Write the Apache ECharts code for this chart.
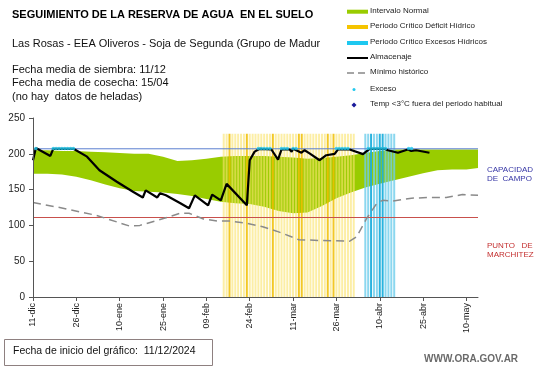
<!DOCTYPE html>
<html><head><meta charset="utf-8">
<script src="https://cdn.jsdelivr.net/npm/echarts@6/dist/echarts.min.js"></script>
<style>html,body{margin:0;padding:0;background:#fff}#c{width:541px;height:368px}</style>
</head><body><div id="c"></div>
<script>
// ---- data (x = days since 11-dic-2024) ----
const tickDays = [0,15,30,45,60,75,90,105,120,135,150];
const tickLabels = ['11-dic','26-dic','10-ene','25-ene','09-feb','24-feb','11-mar','26-mar','10-abr','25-abr','10-may'];
const lastDay = 154;

const bandDays = [0,5,10,15,20,25,30,35,40,45,50,55,60,65,70,75,80,85,90,95,100,105,110,115,120,125,130,135,140,145,150,154];
const bandLow  = [172,172,171,168,163,157,152,148,147,146,144,141,137,133,131,130,126,120,117,118,127,138,146,153,158,163,168,173,177,178,178,180];
const bandHigh = [205,205,204,204,203,202,201,200,200,196,190,191,193,196,197,197,197,196,195,193,194,196,198,201,204,206,206,206,206,206,206,206];

const almDays   = [0,1,6,7,14,18.7,23,29,34.6,38,39,43,44,46,51,54,56,60.6,62,65,67,74,75,76.7,78.5,82.5,84.8,86,88.8,89.5,90,92.9,94,95.7,99.2,101.5,104.4,105.5,109.6,114.2,114.8,116.5,121.7,122.8,126.3,129.7,130.9,132.6,137.2];
const almValues = [191,208,197,207,207,196,177,161,147,139,149,139,145,142,131,124,142,128,143,135,158,128,191,203,207,206,192,206,206,203,207,201.5,205,200.6,191,198,200,206,206,199.6,198,207,207,205,201.5,206,204,205,201.5];

const minDays   = [0,10.4,22,33.5,37,43,51,54,59,64,68,74,79.5,85,92,99,109.6,112,115.5,119,121,124.5,131,137,143,148.6,154];
const minValues = [132,124,114,99,100,107,117,117,109,106,106,103,98,91,80,79,78,84,110,131,135,134,138,139,139,143,142];

const excesoDays = [1,7,8,9,10,11,12,13,14,78,79,80,81,82,86,87,88,90,91,105,106,107,108,109,116,117,118,119,120,121,122,130,131];
const excesoValue = 207.5;

const deficitDays = [66,67,68,69,70,71,72,73,74,75,76,77,78,79,80,81,82,83,84,85,86,87,88,89,90,91,92,93,94,95,96,97,98,99,100,101,102,103,104,105,106,107,108,109,110,111];
const deficitStrongDays = [68,74,83,92,93,102,104];
const excesoPeriodDays = [115,116,117,118,119,120,121,122,123,124,125];
const excesoStrongDays = [117,120,121];
const periodHeight = 228;

const capacidadCampo = 207;
const puntoMarchitez = 111;

// ---- build ----
const FONT = '"Liberation Sans", Arial, sans-serif';
const pair = (xs, ys) => xs.map((x, i) => [x, ys[i]]);
const flat = v => [[0, v], [lastDay, v]];
const barItems = (days, strong, cLight, cStrong) => days.map(d => ({
  value: [d, periodHeight],
  itemStyle: { color: strong.includes(d) ? cStrong : cLight }
}));

const chart = echarts.init(document.getElementById('c'), null, { renderer: 'canvas' });

const legendY = [11.7, 27, 43, 58, 73, 89.5, 105];
const legendTexts = ['Intervalo Normal','Periodo Crítico Déficit Hídrico','Periodo Crítico Excesos Hídricos','Almacenaje','Mínimo histórico','Exceso','Temp <3°C fuera del periodo habitual'];
const lg = [];
legendTexts.forEach((t, i) => {
  lg.push({ type: 'text', left: 370, top: legendY[i] - 5, style: { text: t, font: '8px ' + FONT, fill: '#222' } });
});
lg.push({ type: 'rect', shape: { x: 347, y: legendY[0] - 2, width: 21, height: 4 }, style: { fill: '#99cc00' } });
lg.push({ type: 'rect', shape: { x: 347, y: legendY[1] - 2, width: 21, height: 4 }, style: { fill: '#f5c400' } });
lg.push({ type: 'rect', shape: { x: 347, y: legendY[2] - 2, width: 21, height: 4 }, style: { fill: '#1ec8f0' } });
lg.push({ type: 'line', shape: { x1: 347, y1: legendY[3], x2: 368, y2: legendY[3] }, style: { stroke: '#000', lineWidth: 2 } });
lg.push({ type: 'line', shape: { x1: 347, y1: legendY[4], x2: 368, y2: legendY[4] }, style: { stroke: '#888', lineWidth: 1.5, lineDash: [7, 4] } });
lg.push({ type: 'circle', shape: { cx: 354, cy: legendY[5], r: 1.5 }, style: { fill: '#22c8ee' } });
lg.push({ type: 'polygon', shape: { points: [[354, legendY[6] - 2.5], [356.5, legendY[6]], [354, legendY[6] + 2.5], [351.5, legendY[6]]] }, style: { fill: '#1a1a9a' } });

const option = {
  animation: false,
  backgroundColor: '#fff',
  textStyle: { fontFamily: FONT },
  grid: { left: 33, top: 118, right: 63, bottom: 71, containLabel: false, outerBoundsMode: 'none' },
  xAxis: {
    type: 'value', min: 0, max: lastDay, interval: 15, z: 10,
    axisLine: { show: true, lineStyle: { color: '#555', width: 1 } },
    axisTick: { show: true, length: 4, lineStyle: { color: '#555' }, customValues: tickDays },
    axisLabel: {
      rotate: 90, fontSize: 9, color: '#222', margin: 6, customValues: tickDays,
      formatter: v => { const i = tickDays.indexOf(v); return i >= 0 ? tickLabels[i] : ''; }
    },
    splitLine: { show: false }
  },
  yAxis: {
    type: 'value', min: 0, max: 250, interval: 50, z: 10,
    name: 'Milímetros', nameLocation: 'middle', nameGap: 27,
    nameTextStyle: { fontSize: 8, color: '#222' },
    axisLine: { show: true, lineStyle: { color: '#555', width: 1 } },
    axisTick: { show: true, length: 4, lineStyle: { color: '#555' } },
    axisLabel: { fontSize: 10, color: '#222', margin: 8 },
    splitLine: { show: false }
  },
  series: [
    { name: 'Intervalo Normal', type: 'line', data: pair(bandDays, bandHigh), symbol: 'none',
      lineStyle: { width: 0, opacity: 0 }, areaStyle: { color: '#99cc00', opacity: 1, origin: 'start' }, z: 1 },
    { name: 'bandLow', type: 'line', data: pair(bandDays, bandLow), symbol: 'none', silent: true,
      lineStyle: { width: 0, opacity: 0 }, areaStyle: { color: '#ffffff', opacity: 1, origin: 'start' }, z: 1.5 },
    { name: 'Periodo Crítico Déficit Hídrico', type: 'bar', barWidth: 2,
      data: barItems(deficitDays, deficitStrongDays, 'rgba(250,228,110,0.62)', 'rgba(240,190,0,0.85)'), z: 2 },
    { name: 'Periodo Crítico Excesos Hídricos', type: 'bar', barWidth: 2, barGap: '-100%',
      data: barItems(excesoPeriodDays, excesoStrongDays, 'rgba(110,205,235,0.8)', 'rgba(30,175,220,0.95)'), z: 2 },
    { name: 'Capacidad de campo', type: 'line', data: flat(capacidadCampo), symbol: 'none', silent: true,
      lineStyle: { color: '#5b7fd0', width: 1 }, z: 3 },
    { name: 'Punto de marchitez', type: 'line', data: flat(puntoMarchitez), symbol: 'none', silent: true,
      itemStyle: { color: '#c8504c' }, lineStyle: { color: '#c8504c', width: 1.1 }, z: 3 },
    { name: 'Mínimo histórico', type: 'line', data: pair(minDays, minValues), symbol: 'none',
      lineStyle: { color: '#8a8a8a', width: 1.5, type: [8, 5] }, z: 4 },
    { name: 'Almacenaje', type: 'line', data: pair(almDays, almValues), symbol: 'none',
      lineStyle: { color: '#000', width: 2.2 }, z: 5 },
    { name: 'Exceso', type: 'scatter', data: excesoDays.map(d => [d, excesoValue]), symbol: 'circle', symbolSize: 3.5,
      itemStyle: { color: '#22c8ee' }, z: 6 }
  ],
  graphic: [
    { type: 'text', left: 12, top: 9, style: { text: 'SEGUIMIENTO DE LA RESERVA DE AGUA  EN EL SUELO', font: 'bold 11px ' + FONT, fill: '#000' } },
    { type: 'text', left: 12, top: 38, style: { text: 'Las Rosas - EEA Oliveros - Soja de Segunda (Grupo de Madur', font: '11px ' + FONT, fill: '#111' } },
    { type: 'text', left: 12, top: 63, style: { text: 'Fecha media de siembra: 11/12\nFecha media de cosecha: 15/04\n(no hay  datos de heladas)', font: '11px ' + FONT, fill: '#111', lineHeight: 13.5 } },
    ...lg,
    { type: 'text', left: 487, top: 165, style: { text: 'CAPACIDAD\nDE  CAMPO', font: '8px ' + FONT, fill: '#3535a5', lineHeight: 9.5 } },
    { type: 'text', left: 487, top: 241, style: { text: 'PUNTO   DE\nMARCHITEZ', font: '8px ' + FONT, fill: '#c43030', lineHeight: 9.5 } },
    { type: 'rect', shape: { x: 4.5, y: 339.5, width: 208, height: 26 }, style: { fill: '#fff', stroke: '#8e8080', lineWidth: 1 } },
    { type: 'text', left: 13, top: 346, style: { text: 'Fecha de inicio del gráfico:  11/12/2024', font: '10.5px ' + FONT, fill: '#111' } },
    { type: 'text', left: 424, top: 354, style: { text: 'WWW.ORA.GOV.AR', font: 'bold 10px ' + FONT, fill: '#6a6a6a' } }
  ]
};
chart.setOption(option);
</script>
</body></html>
